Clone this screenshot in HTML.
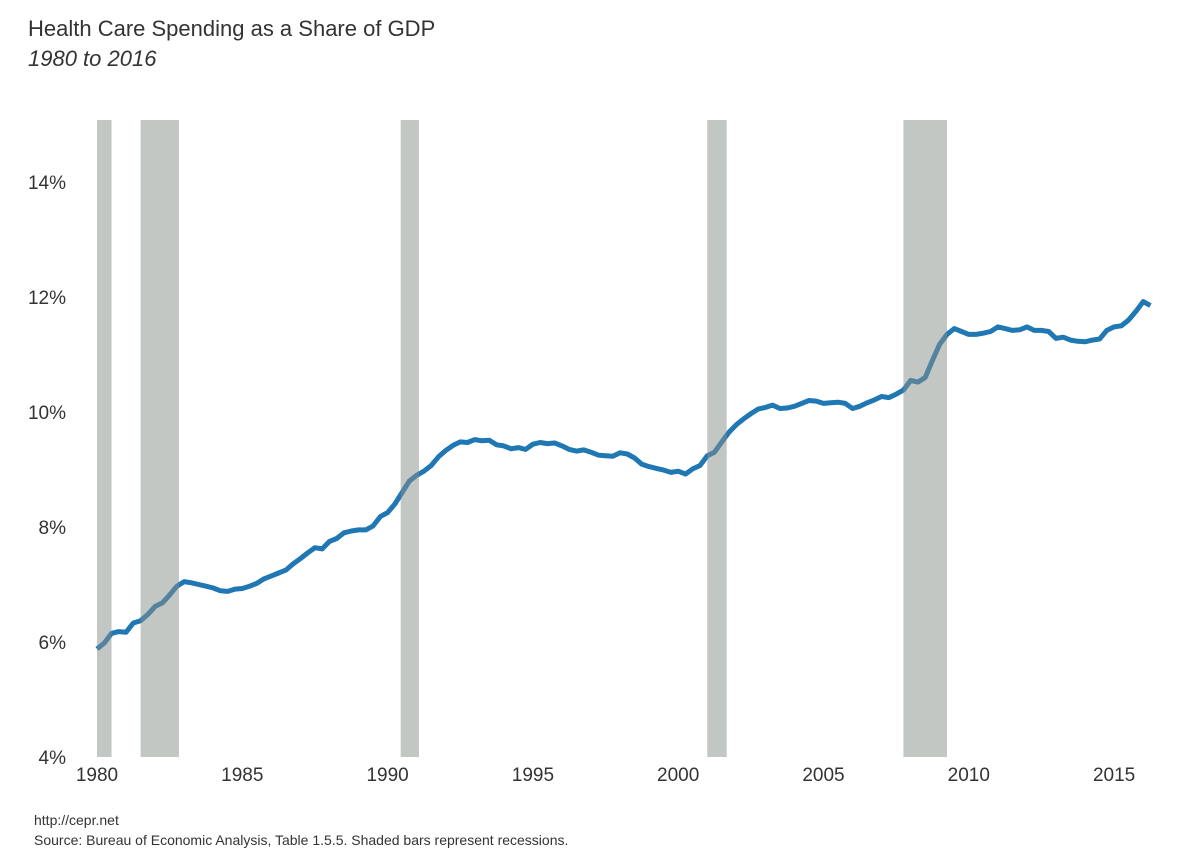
<!DOCTYPE html>
<html><head><meta charset="utf-8"><style>
body{margin:0;background:#fff;font-family:"Liberation Sans",sans-serif;}
svg{display:block}
</style></head><body>
<svg id="chart" width="1200" height="857">
<text x="28" y="36" font-size="22" fill="#333">Health Care Spending as a Share of GDP</text>
<text x="28" y="66" font-size="22" font-style="italic" fill="#333">1980 to 2016</text>
<g id="plot"></g>
<text x="34" y="825" font-size="14" fill="#333">http://cepr.net</text>
<text x="34" y="845" font-size="14" fill="#333">Source: Bureau of Economic Analysis, Table 1.5.5. Shaded bars represent recessions.</text>
</svg>
<script>
const values=[5.88,5.98,6.15,6.18, 6.17,6.33,6.37,6.48, 6.62,6.68,6.82,6.97, 7.05,7.03,7.00,6.97,
6.94,6.89,6.88,6.92, 6.93,6.97,7.02,7.10, 7.15,7.20,7.25,7.36, 7.45,7.55,7.64,7.62,
7.75,7.80,7.90,7.93, 7.95,7.95,8.02,8.18, 8.25,8.40,8.60,8.80, 8.90,8.97,9.07,9.22,
9.33,9.42,9.48,9.47, 9.52,9.50,9.51,9.43, 9.41,9.36,9.38,9.35, 9.44,9.47,9.45,9.46,
9.41,9.35,9.32,9.34, 9.30,9.25,9.24,9.23, 9.29,9.27,9.20,9.09, 9.05,9.02,8.99,8.95,
8.97,8.92,9.01,9.07, 9.24,9.30,9.48,9.65, 9.78,9.88,9.97,10.05, 10.08,10.12,10.06,10.07,
10.10,10.15,10.20,10.19, 10.15,10.16,10.17,10.15, 10.06,10.10,10.16,10.21, 10.27,10.25,10.31,10.38,
10.55,10.52,10.60,10.90, 11.18,11.35,11.45,11.40, 11.35,11.35,11.37,11.40, 11.48,11.45,11.42,11.43,
11.48,11.42,11.42,11.40, 11.28,11.30,11.25,11.23, 11.22,11.25,11.27,11.42, 11.48,11.50,11.60,11.75,
11.92,11.85];
const startYear=1980;
const recStart=[1980.0,1981.5,1990.45,2001.0,2007.75];
const recEnd=[1980.5,1982.82,1991.08,2001.67,2009.25];
const yTicks=[4,6,8,10,12,14];
const xTicks=[1980,1985,1990,1995,2000,2005,2010,2015];
const NS="http://www.w3.org/2000/svg";
const X=t=>97+(t-1980)*29.06;
const Y=v=>757-(v-4)*57.5;
const g=document.getElementById('plot');
function mk(tag,attrs){const e=document.createElementNS(NS,tag);for(const k in attrs)e.setAttribute(k,attrs[k]);g.appendChild(e);return e;}
yTicks.forEach(v=>{const t=mk('text',{x:66,y:Y(v)+7,'font-size':19,'text-anchor':'end',fill:'#333'});t.textContent=v+'%';

});
xTicks.forEach(v=>{const t=mk('text',{x:X(v),y:781,'font-size':19,'text-anchor':'middle',fill:'#333'});t.textContent=v;

});
const pts=values.map((v,i)=>X(startYear+i/4).toFixed(1)+','+Y(v).toFixed(1)).join(' ');
const line=mk('polyline',{points:pts,fill:'none',stroke:'#1f77b4',"stroke-width":5,"stroke-linejoin":'round'});


recStart.forEach((s,i)=>{const r=mk('rect',{x:X(s),y:120,width:X(recEnd[i])-X(s),height:637,fill:'#878f89',opacity:0.5});

});
</script>
</body></html>
